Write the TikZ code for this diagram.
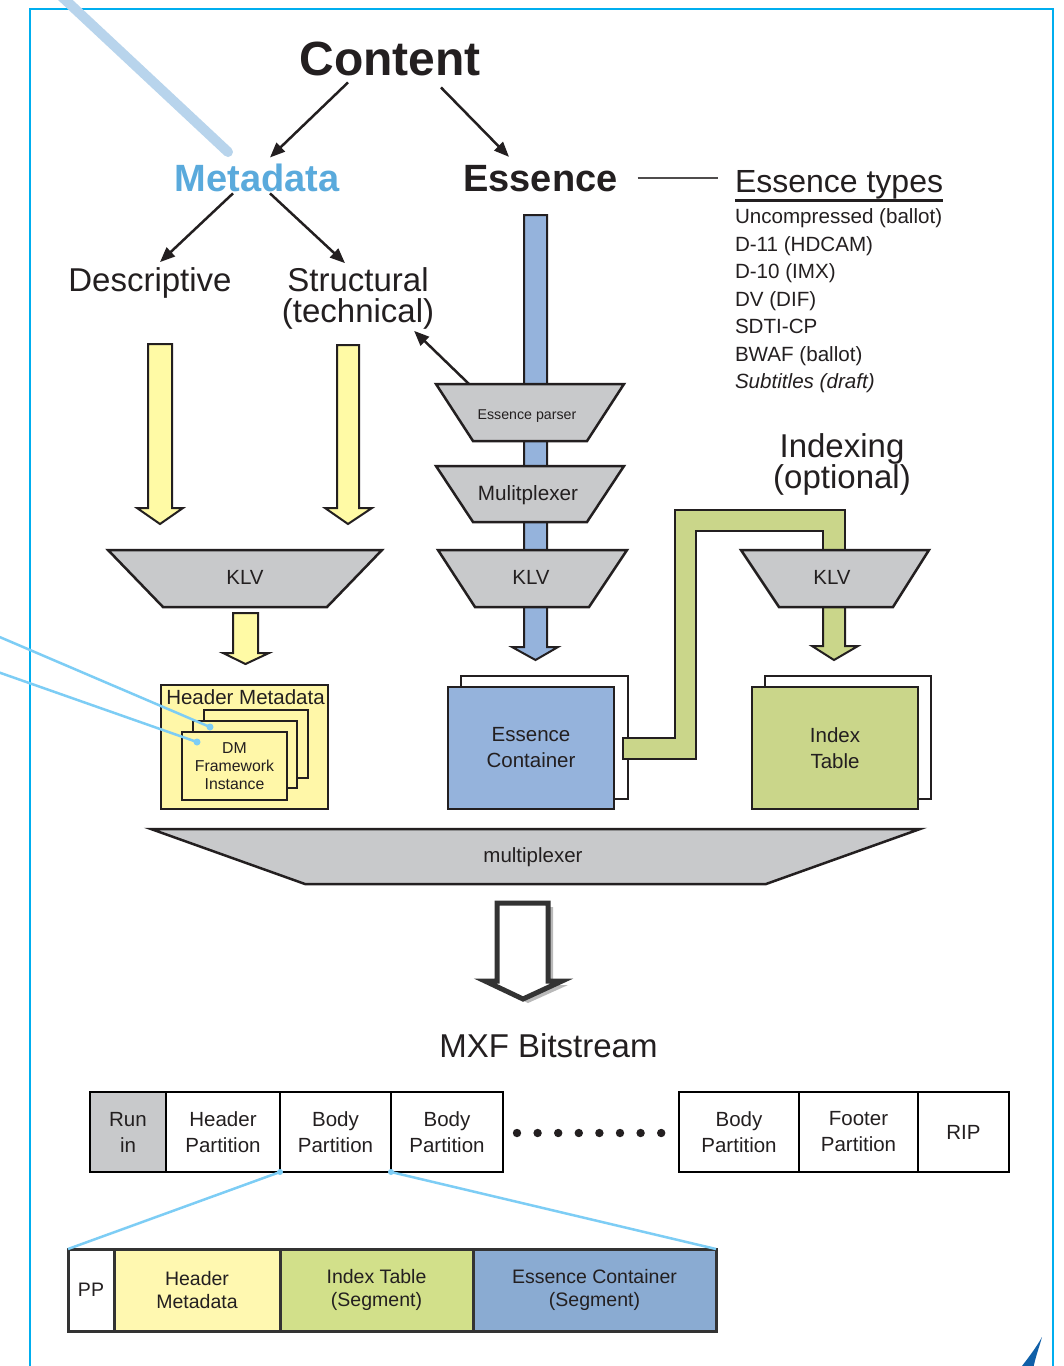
\documentclass[tikz,border=0pt]{standalone}
\usepackage{fontspec}
\setmainfont{Liberation Sans}
\usetikzlibrary{arrows.meta,calc}
\newcommand\myfs[2]{\fontsize{#1}{#2}\selectfont}
\definecolor{framecol}{RGB}{0,174,239}
\definecolor{diagcol}{RGB}{184,212,236}
\definecolor{callcol}{RGB}{125,205,245}
\definecolor{metablue}{RGB}{90,170,220}
\definecolor{txt}{RGB}{35,31,32}
\definecolor{outl}{RGB}{35,31,32}
\definecolor{trapgray}{RGB}{200,201,203}
\definecolor{essblue}{RGB}{149,179,220}
\definecolor{idxgreen}{RGB}{202,214,138}
\definecolor{yelarrow}{RGB}{255,250,165}
\definecolor{hmyellow}{RGB}{255,247,168}
\definecolor{segyellow}{RGB}{255,248,176}
\definecolor{seggreen}{RGB}{210,224,138}
\definecolor{segblue}{RGB}{138,171,210}
\definecolor{shadowgray}{RGB}{185,185,185}
\definecolor{swoosh}{RGB}{16,96,168}
\begin{document}
\begin{tikzpicture}[x=1pt,y=-1pt,
  lbl/.style={inner sep=0pt, outer sep=0pt, text=txt},
  arr/.style={draw=outl, line width=2.5pt, -{Triangle[length=15pt,width=12pt]}},
  trap/.style={draw=outl, line width=2.5pt, fill=trapgray, line join=miter},
  blockarrow/.style={draw=outl, line width=2pt, line join=miter},
  boxn/.style={draw=outl, line width=2.5pt, inner sep=0pt, outer sep=0pt, align=center, text=txt},
  cell/.style={draw=black, line width=2pt, inner sep=0pt, outer sep=0pt, minimum height=80pt, align=center, text=txt, font=\myfs{20.5}{26}},
  seg/.style={draw=black!80, line width=3pt, inner sep=0pt, outer sep=0pt, minimum height=82pt, align=center, text=txt, font=\myfs{19.5}{22.5}},
  callout/.style={draw=callcol, line width=2.5pt},
  mid/.style={font=\myfs{20.5}{26}},
  big/.style={font=\myfs{33}{31}}
]
\clip (0,0) rectangle (1064,1366);
\fill[white] (0,0) rectangle (1064,1366);

% frame
\draw[framecol, line width=2pt] (30,1380) -- (30,9) -- (1053,9) -- (1053,1380);
% diagonal pointer
\draw[diagcol, line width=10pt, line cap=round] (44,-20) -- (228,152);

% headings
\node[lbl, font=\bfseries\myfs{48}{48}, anchor=base] (content) at (390,75) {Content};
\node[lbl, font=\bfseries\myfs{38}{38}, text=metablue, anchor=base] (meta) at (257,191) {Metadata};
\node[lbl, font=\bfseries\myfs{38}{38}, anchor=base] (ess) at (540.5,191) {Essence};
\node[lbl, big, anchor=base] (desc) at (150,291) {Descriptive};
\node[lbl, big, align=center] (struct) at (358,298) {Structural\\(technical)};
\node[lbl, big, align=center] (indexing) at (842,464) {Indexing\\(optional)};

\draw[arr] ([shift={(-42,7)}]content.south) -- ([shift={(13,-6)}]meta.north);
\draw[arr] ([shift={(51,12)}]content.south) -- ([shift={(-31.5,-8)}]ess.north);
\draw[arr] ([shift={(-24,2)}]meta.south) -- ([shift={(10,-5)}]desc.north);
\draw[arr] ([shift={(13,2)}]meta.south) -- ([shift={(-13,-4)}]struct.north);

% essence types
\node[lbl, font=\myfs{32}{32}, anchor=base west] (types) at (735,192) {Essence types};
\draw[outl, line width=3pt] ($(types.base west)+(0,8)$) -- ($(types.base east)+(0,8)$);
\draw[outl!80, line width=1.5pt] ($(ess.east)+(20,0)$) -- ($(types.west |- ess.east)+(-17,0)$);
\node[lbl, font=\myfs{20.6}{27.5}, align=left, anchor=north west] (typelist) at (735,209)
 {Uncompressed (ballot)\\D-11 (HDCAM)\\D-10 (IMX)\\DV (DIF)\\SDTI-CP\\BWAF (ballot)\\\textit{Subtitles (draft)}};

% yellow arrows from descriptive / structural
\draw[blockarrow, fill=yelarrow] (148,344) -- (172,344) -- (172,508) -- (183,508) -- (160,524) -- (137,508) -- (148,508) -- cycle;
\draw[blockarrow, fill=yelarrow] (337,345) -- (359,345) -- (359,508) -- (372,508) -- (348,524) -- (325,508) -- (337,508) -- cycle;

% blue essence bar
\draw[blockarrow, fill=essblue] (524,215) -- (547,215) -- (547,647) -- (558,647) -- (535.5,660) -- (512,647) -- (524,647) -- cycle;

% essence parser, multiplexer, KLV (middle)
\draw[trap] (436,384) -- (624,384) -- (587,441) -- (473,441) -- cycle;
\node[lbl, font=\myfs{14.2}{16}, anchor=base] (parser) at (527,419) {Essence parser};
\draw[trap] (436,466) -- (624,466) -- (587,522) -- (473,522) -- cycle;
\node[lbl, font=\myfs{20.7}{24}, anchor=base] (mux) at (528,500) {Mulitplexer};
\draw[trap] (438,550) -- (627,550) -- (589,607) -- (475,607) -- cycle;
\node[lbl, mid, anchor=base] (klvm) at (531,584) {KLV};

\draw[arr] ([shift={(-58,-35)}]parser.base) -- ([shift={(-20,2)}]struct.south east);

% left KLV
\draw[trap] (108,550) -- (382,550) -- (327,607) -- (163,607) -- cycle;
\node[lbl, mid, anchor=base] (klvl) at (245,584) {KLV};
\draw[blockarrow, fill=yelarrow] (233,613) -- (258,613) -- (258,653) -- (269,653) -- (245.5,664) -- (223,653) -- (233,653) -- cycle;

% header metadata
\node[boxn, fill=hmyellow, minimum width=167pt, minimum height=124pt] (hmbox) at (244.5,747) {};
\node[lbl, mid, anchor=base] (hmlbl) at (245.5,704) {Header Metadata};
\node[boxn, fill=hmyellow, minimum width=104pt, minimum height=68pt] (dmback) at (256,744) {};
\node[boxn, fill=hmyellow, minimum width=104pt, minimum height=67pt] (dmmid) at (245,754.5) {};
\node[boxn, fill=hmyellow, minimum width=105pt, minimum height=68pt, font=\myfs{15.8}{18}] (dmfront) at (234.5,766) {DM\\Framework\\Instance};

% essence container and index table
\node[boxn, fill=white, minimum width=167pt, minimum height=123pt] (ecb) at (544.5,737.5) {};
\node[boxn, fill=essblue, minimum width=166pt, minimum height=122pt, font=\myfs{20.5}{26}] (ecf) at (531,748) {Essence\\Container};
\node[boxn, fill=white, minimum width=166pt, minimum height=123pt] (itb) at (848,737.5) {};
\node[boxn, fill=idxgreen, minimum width=166pt, minimum height=122pt, font=\myfs{20.5}{26}] (itf) at (835,748) {Index\\Table};

% green pipe
\draw[blockarrow, fill=idxgreen] (623,738) -- (675,738) -- (675,510) -- (845,510) -- (845,570) -- (823,570) -- (823,531) -- (696,531) -- (696,759) -- (623,759) -- cycle;
\draw[blockarrow, fill=idxgreen] (823,600) -- (845,600) -- (845,646) -- (858,646) -- (834,660) -- (812,646) -- (823,646) -- cycle;
\draw[trap] (741,550) -- (929,550) -- (893,607) -- (779,607) -- cycle;
\node[lbl, mid, anchor=base] (klvr) at (832,584) {KLV};

% big multiplexer
\draw[trap] (151,829) -- (920,829) -- (766,884) -- (305,884) -- cycle;
\node[lbl, mid, anchor=base] (bigmux) at (533,862) {multiplexer};

% hollow arrow with shadow
\fill[shadowgray] (502,907) -- (553,907) -- (553,985) -- (568,985) -- (528,1003) -- (490,985) -- (502,985) -- cycle;
\draw[draw=black!80, line width=5pt, fill=white, line join=miter] (497,903) -- (548,903) -- (548,981) -- (562,981) -- (523,999) -- (485,981) -- (497,981) -- cycle;

\node[lbl, font=\myfs{33}{33}, anchor=base] (mxf) at (548.5,1057) {MXF Bitstream};

% bitstream row
\node[cell, fill=trapgray, minimum width=76pt] (runin) at (128,1132) {Run\\in};
\node[cell, minimum width=114pt] (hp) at (223,1132) {Header\\Partition};
\node[cell, minimum width=111pt] (bp1) at (335.5,1132) {Body\\Partition};
\node[cell, minimum width=112pt] (bp2) at (447,1132) {Body\\Partition};
\foreach \i in {0,...,7} \fill[txt] (517+20.6*\i,1133) circle[radius=4.2pt];
\node[cell, minimum width=120pt] (bp3) at (739,1132) {Body\\Partition};
\node[cell, minimum width=119pt] (fp) at (858.5,1132) {Footer\\Partition};
\node[cell, minimum width=91pt] (rip) at (963.5,1132) {RIP};

% partition detail
\node[seg, fill=white, minimum width=46pt] (pp) at (91,1290) {PP};
\node[seg, fill=segyellow, minimum width=166pt] (seghm) at (197,1290) {Header\\Metadata};
\node[seg, fill=seggreen, minimum width=193pt] (segit) at (376.5,1290) {Index Table\\(Segment)};
\node[seg, fill=segblue, minimum width=243pt] (segec) at (594.5,1290) {Essence Container\\(Segment)};
\draw[callout] (bp1.south west) -- (pp.north west);
\draw[callout] (bp1.south east) -- (segec.north east);
\fill[callcol] (bp1.south west) circle[radius=3pt];
\fill[callcol] (bp1.south east) circle[radius=3pt];

% callouts into header metadata
\coordinate (c1) at (-5,635);
\coordinate (c2) at (-5,671);
\draw[callout] (c1) -- ([shift={(17,6)}]dmmid.north west);
\fill[callcol] ([shift={(17,6)}]dmmid.north west) circle[radius=3.5pt];
\draw[callout] (c2) -- ([shift={(15,10)}]dmfront.north west);
\fill[callcol] ([shift={(15,10)}]dmfront.north west) circle[radius=3.5pt];

% corner swoosh
\fill[swoosh] (1042,1337) .. controls (1036,1348) and (1028,1358) .. (1019,1370) -- (1033,1370) .. controls (1035,1358) and (1039,1348) .. (1042,1337) -- cycle;
\end{tikzpicture}
\end{document}
